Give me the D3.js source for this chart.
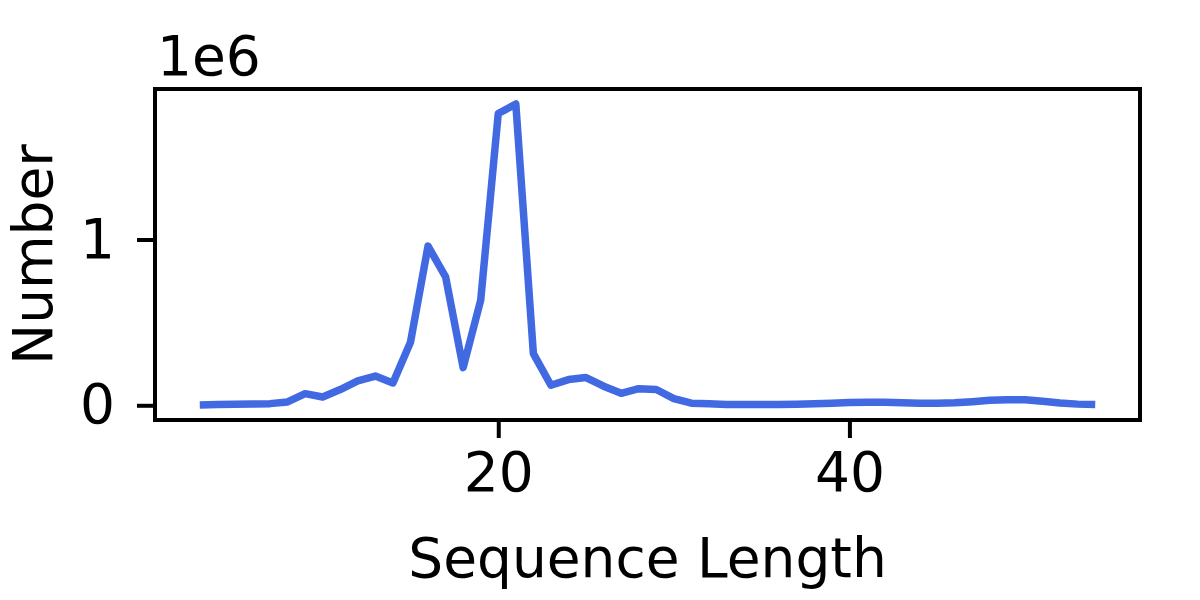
<!DOCTYPE html>
<html>
<head>
<meta charset="utf-8">
<script src="https://cdn.jsdelivr.net/npm/d3@7"></script>
<style>
  html, body { margin: 0; padding: 0; background: #fff; }
  text { font-family: "DejaVu Sans", sans-serif; fill: #000; }
</style>
</head>
<body>
<svg id="chart" width="1200" height="600"></svg>
<script>
// Sequence lengths (x) and counts (y)
const lengths = [3,4,5,6,7,8,9,10,11,12,13,14,15,16,17,18,19,20,21,22,23,24,25,26,27,28,29,30,31,32,33,34,35,36,37,38,39,40,41,42,43,44,45,46,47,48,49,50,51,52,53,54];
const counts = [
  2000, 4000, 6000, 8000, 10000, 20000, 70000, 50000, 95000, 147000,
  176000, 135000, 380000, 960000, 775000, 227000, 634000, 1760000, 1817000, 312000,
  121000, 155000, 167000, 115000, 72000, 100000, 95000, 40000, 13000, 10000,
  5000, 4000, 4000, 4000, 6000, 9000, 13000, 17000, 19000, 18000,
  16000, 13000, 12000, 15000, 22000, 30000, 34000, 33000, 24000, 14000,
  7000, 4000
];
const xTicks = [20, 40];
const yTicks = [0, 1000000];
const yTickLabels = ["0", "1"];
const xLabel = "Sequence Length";
const yLabel = "Number";
const offsetLabel = "1e6";

const svg = d3.select("#chart");
const L = 155, R = 1140, T = 89, B = 420;
const FS = 55;

const xExt = d3.extent(lengths), yExt = d3.extent(counts);
const xPad = (xExt[1] - xExt[0]) * 0.05, yPad = (yExt[1] - yExt[0]) * 0.05;
const x = d3.scaleLinear().domain([xExt[0] - xPad, xExt[1] + xPad]).range([L, R]);
const y = d3.scaleLinear().domain([yExt[0] - yPad, yExt[1] + yPad]).range([B, T]);

const data = lengths.map((d, i) => ({x: d, y: counts[i]}));

// line
const line = d3.line().x(d => x(d.x)).y(d => y(d.y));
svg.append("path").datum(data)
  .attr("d", line)
  .attr("fill", "none")
  .attr("stroke", "#4169E1")
  .attr("stroke-width", 7.5)
  .attr("stroke-linejoin", "round")
  .attr("stroke-linecap", "butt");

// axes
const xAxis = d3.axisBottom(x).tickValues(xTicks).tickSize(18).tickPadding(14).tickFormat(d3.format("d"));
const gx = svg.append("g").attr("transform", `translate(0,${B})`).call(xAxis);
gx.select(".domain").remove();
gx.selectAll(".tick line").attr("stroke", "#000").attr("stroke-width", 4);
gx.selectAll(".tick text").attr("font-size", FS).attr("font-family", "DejaVu Sans").attr("fill", "#000");

const yAxis = d3.axisLeft(y).tickValues(yTicks).tickSize(18).tickPadding(22).tickFormat((d, i) => yTickLabels[i]);
const gy = svg.append("g").attr("transform", `translate(${L},0)`).call(yAxis);
gy.select(".domain").remove();
gy.selectAll(".tick line").attr("stroke", "#000").attr("stroke-width", 4);
gy.selectAll(".tick text").attr("font-size", FS).attr("font-family", "DejaVu Sans").attr("fill", "#000");

// frame
svg.append("rect").attr("x", L).attr("y", T).attr("width", R - L).attr("height", B - T)
  .attr("fill", "none").attr("stroke", "#000").attr("stroke-width", 4);

// labels
svg.append("text").attr("x", (L + R) / 2).attr("y", 577).attr("text-anchor", "middle")
  .attr("font-size", FS).text(xLabel);
svg.append("text").attr("transform", `translate(52,${(T + B) / 2}) rotate(-90)`).attr("text-anchor", "middle")
  .attr("font-size", FS).text(yLabel);
svg.append("text").attr("x", 157).attr("y", 75).attr("font-size", FS).text(offsetLabel);
</script>
</body>
</html>
